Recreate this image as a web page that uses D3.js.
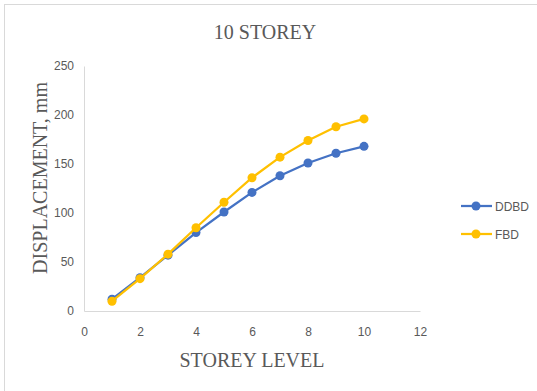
<!DOCTYPE html>
<html><head><meta charset="utf-8">
<script src="https://cdn.jsdelivr.net/npm/d3@7"></script>
<style>body{margin:0;background:#fff}svg{display:block}</style>
</head><body>
<script>
const storeys = [1,2,3,4,5,6,7,8,9,10];
const ddbd = [12,34,57,80,101,121,138,151,161,168];
const fbd  = [10,33,58,85,111,136,157,174,188,196];
const seriesNames = ["DDBD","FBD"];
const seriesColors = ["#4472C4","#FFC000"];
const xTicks = [0,2,4,6,8,10,12];
const yTicks = [0,50,100,150,200,250];

const W=537,H=391;
const svg=d3.select("body").append("svg").attr("width",W).attr("height",H);
svg.append("rect").attr("x",4.5).attr("y",4.5).attr("width",W).attr("height",H).attr("fill","#fff").attr("stroke","#d9d9d9");

const x=d3.scaleLinear().domain([0,12]).range([84,420]);
const y=d3.scaleLinear().domain([0,250]).range([311,66]);

const gray="#595959";
svg.append("text").attr("x",265).attr("y",39).attr("text-anchor","middle")
  .attr("font-family","Liberation Serif").attr("font-size",20).attr("fill",gray).text("10 STOREY");

// axes
const xa=svg.append("g").attr("transform","translate(0,311)")
  .call(d3.axisBottom(x).tickValues(xTicks).tickSize(0).tickPadding(16));
const ya=svg.append("g").attr("transform","translate(84,0)")
  .call(d3.axisLeft(y).tickValues(yTicks).tickSize(0).tickPadding(10));
[xa,ya].forEach(g=>{
  g.select(".domain").attr("stroke","#d9d9d9").attr("stroke-width",1);
  g.selectAll("text").attr("font-family","Liberation Sans, sans-serif").attr("font-size",12).attr("fill",gray);
});

svg.append("text").attr("x",252).attr("y",367).attr("text-anchor","middle")
  .attr("font-family","Liberation Serif").attr("font-size",20).attr("fill",gray).text("STOREY LEVEL");
svg.append("text").attr("transform","translate(47,178) rotate(-90)").attr("text-anchor","middle")
  .attr("font-family","Liberation Serif").attr("font-size",20).attr("fill",gray).text("DISPLACEMENT, mm");

const data=[ddbd,fbd];
const line=d3.line().x((d,i)=>x(storeys[i])).y(d=>y(d));
data.forEach((s,k)=>{
  svg.append("path").datum(s).attr("d",line).attr("fill","none")
    .attr("stroke",seriesColors[k]).attr("stroke-width",2.25).attr("stroke-linejoin","round");
  svg.append("g").selectAll("circle").data(s).join("circle")
    .attr("cx",(d,i)=>x(storeys[i])).attr("cy",d=>y(d)).attr("r",4.5).attr("fill",seriesColors[k]);
});

// legend
seriesNames.forEach((n,k)=>{
  const ly=206+k*28;
  const g=svg.append("g");
  g.append("line").attr("x1",461).attr("x2",492).attr("y1",ly).attr("y2",ly)
    .attr("stroke",seriesColors[k]).attr("stroke-width",2.25);
  g.append("circle").attr("cx",476).attr("cy",ly).attr("r",4.5).attr("fill",seriesColors[k]);
  g.append("text").attr("x",495).attr("y",ly+4.5).attr("font-family","Liberation Sans, sans-serif")
    .attr("font-size",12).attr("fill",gray).text(n);
});
</script>
</body></html>
